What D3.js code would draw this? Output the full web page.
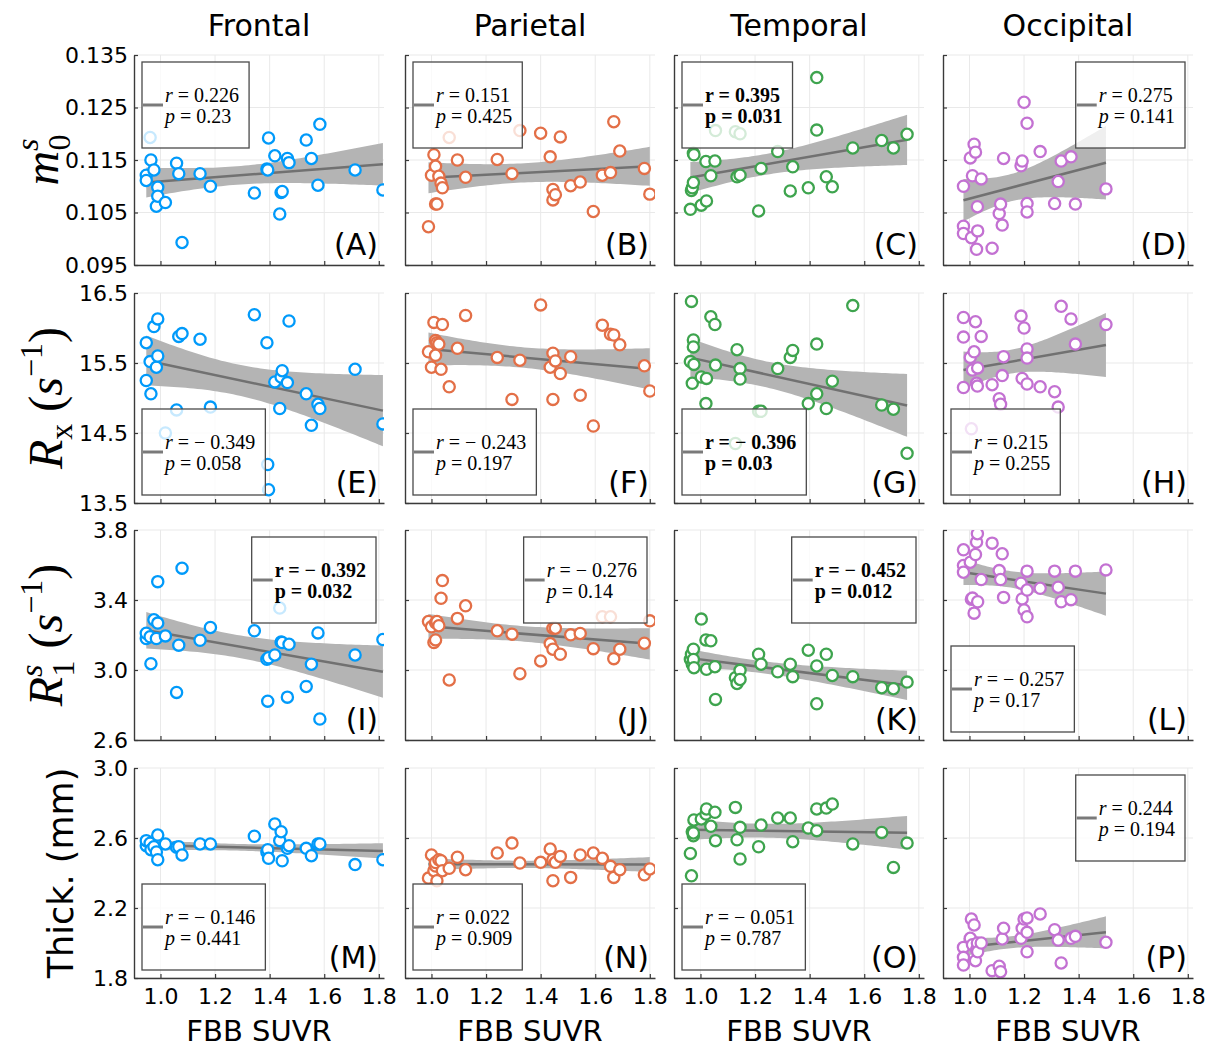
<!DOCTYPE html>
<html>
<head>
<meta charset="utf-8">
<script src="https://cdn.jsdelivr.net/npm/d3@7"></script>
<style>
  body { margin: 0; background: #fff; }
</style>
</head>
<body>
<svg id="chart" width="1212" height="1047"></svg>
<script>
/* global d3 */

const SANS = 'DejaVu Sans, sans-serif';
const SERIF = 'Liberation Serif, DejaVu Serif, serif';

const COL_LEFT = [134, 405, 674, 943];
const ROW_TOP = [55, 293, 530, 768];
const PW = 250;
const PH = 210;
const X_DOMAIN = [0.903, 1.819];
const T95 = 2.048; // t(0.975, n-2) for n = 30

const regions = ['Frontal', 'Parietal', 'Temporal', 'Occipital'];
const colors = ['#009AFA', '#E36F47', '#3EA44E', '#C371D2'];
const panelLetters = 'ABCDEFGHIJKLMNOP'.split('');

const xTicks = [1.0, 1.2, 1.4, 1.6, 1.8];
const yTicksM0 = [0.095, 0.105, 0.115, 0.125, 0.135];
const yTicksRx = [13.5, 14.5, 15.5, 16.5];
const yTicksR1 = [2.6, 3.0, 3.4, 3.8];
const yTicksThick = [1.8, 2.2, 2.6, 3.0];

// FBB SUVR per region (same subjects in every row of a column)
const suvrFrontal = [0.948, 0.948, 0.962, 0.965, 0.976, 0.985, 0.99, 0.99, 1.018, 1.059, 1.067, 1.079, 1.145, 1.183, 1.344, 1.39, 1.393, 1.396, 1.419, 1.437, 1.442, 1.446, 1.465, 1.471, 1.534, 1.553, 1.577, 1.584, 1.713, 1.815];
const suvrParietal = [0.989, 1.0, 1.009, 1.015, 1.015, 1.02, 1.027, 1.035, 1.04, 1.065, 1.095, 1.125, 1.241, 1.295, 1.324, 1.4, 1.435, 1.445, 1.445, 1.454, 1.472, 1.51, 1.545, 1.593, 1.626, 1.656, 1.668, 1.69, 1.78, 1.8];
const suvrTemporal = [0.963, 0.967, 0.970, 0.974, 0.974, 0.976, 1.003, 1.02, 1.022, 1.038, 1.053, 1.055, 1.128, 1.134, 1.145, 1.145, 1.213, 1.222, 1.283, 1.329, 1.338, 1.395, 1.426, 1.426, 1.461, 1.483, 1.558, 1.664, 1.707, 1.757];
const suvrOccipital = [0.978, 0.978, 0.978, 1.003, 1.007, 1.011, 1.017, 1.022, 1.026, 1.029, 1.03, 1.043, 1.083, 1.109, 1.114, 1.12, 1.125, 1.189, 1.193, 1.2, 1.211, 1.211, 1.211, 1.259, 1.312, 1.325, 1.336, 1.372, 1.388, 1.5];

// m0s
const m0Frontal = [0.1121, 0.1111, 0.1193, 0.1150, 0.1131, 0.1062, 0.1098, 0.1081, 0.1069, 0.1144, 0.1124, 0.0993, 0.1124, 0.1100, 0.1087, 0.1133, 0.1131, 0.1192, 0.1158, 0.1047, 0.1088, 0.1090, 0.1153, 0.1145, 0.1188, 0.1153, 0.1102, 0.1218, 0.1131, 0.1093];
const m0Parietal = [0.1023, 0.1121, 0.1160, 0.1138, 0.1066, 0.1066, 0.1119, 0.1106, 0.1097, 0.1193, 0.1150, 0.1117, 0.1151, 0.1124, 0.1206, 0.1201, 0.1156, 0.1094, 0.1074, 0.1084, 0.1194, 0.1101, 0.1108, 0.1052, 0.1121, 0.1126, 0.1223, 0.1167, 0.1134, 0.1085];
const m0Temporal = [0.1056, 0.1092, 0.1097, 0.1107, 0.1163, 0.1160, 0.1064, 0.1147, 0.1072, 0.1120, 0.1148, 0.1206, 0.1204, 0.1118, 0.1200, 0.1121, 0.1053, 0.1134, 0.1166, 0.1091, 0.1137, 0.1097, 0.1307, 0.1207, 0.1118, 0.1099, 0.1173, 0.1187, 0.1173, 0.1199];
const m0Occipital = [0.1100, 0.1024, 0.1010, 0.1154, 0.1002, 0.1120, 0.1180, 0.1165, 0.0980, 0.1061, 0.1015, 0.1114, 0.0982, 0.1048, 0.1066, 0.1026, 0.1153, 0.1139, 0.1148, 0.1260, 0.1220, 0.1067, 0.1051, 0.1166, 0.1067, 0.1109, 0.1148, 0.1156, 0.1066, 0.1095];

// Rx
const rxFrontal = [15.25, 15.79, 15.52, 15.06, 16.02, 15.44, 16.13, 15.60, 14.50, 14.83, 15.88, 15.92, 15.84, 14.87, 16.19, 15.79, 14.05, 13.69, 15.23, 14.85, 15.30, 15.39, 15.22, 16.10, 15.06, 14.61, 14.91, 14.85, 15.41, 14.63];
const rxParietal = [15.66, 15.44, 16.08, 15.82, 15.61, 15.79, 15.77, 15.41, 16.05, 15.16, 15.71, 16.18, 15.58, 14.98, 15.54, 16.33, 15.44, 15.64, 14.98, 15.53, 15.35, 15.59, 15.04, 14.60, 16.04, 15.91, 15.90, 15.76, 15.46, 15.10];
const rxTemporal = [15.52, 16.38, 15.21, 15.83, 15.73, 15.48, 15.30, 14.92, 15.28, 16.16, 16.05, 15.47, 14.35, 15.69, 15.42, 15.27, 14.81, 14.81, 15.42, 15.58, 15.68, 14.92, 15.77, 15.06, 14.85, 15.24, 16.32, 14.90, 14.84, 14.21];
const rxOccipital = [16.15, 15.87, 15.15, 15.58, 14.56, 15.40, 15.66, 16.09, 15.21, 15.17, 15.43, 15.88, 15.19, 14.99, 14.91, 15.32, 15.59, 16.17, 15.28, 16.00, 15.20, 15.70, 15.57, 15.16, 15.09, 14.87, 16.31, 16.13, 15.77, 16.05];

// R1s
const r1Frontal = [3.180, 3.210, 3.190, 3.036, 3.287, 3.180, 3.505, 3.268, 3.195, 2.872, 3.142, 3.582, 3.170, 3.243, 3.224, 3.061, 2.822, 3.070, 3.086, 3.354, 3.160, 3.157, 2.845, 3.147, 2.906, 3.033, 3.212, 2.720, 3.086, 3.174];
const r1Parietal = [3.277, 3.247, 3.157, 3.172, 3.270, 3.277, 3.253, 3.410, 3.511, 2.943, 3.295, 3.367, 3.224, 3.205, 2.979, 3.052, 3.151, 3.119, 3.239, 3.239, 3.090, 3.201, 3.209, 3.122, 3.304, 3.304, 3.065, 3.119, 3.153, 3.281];
const r1Temporal = [3.061, 3.090, 3.033, 3.119, 3.060, 3.013, 3.291, 3.172, 3.004, 3.167, 3.019, 2.832, 2.956, 2.923, 2.998, 2.946, 3.090, 3.033, 2.990, 3.033, 2.962, 3.113, 3.023, 2.807, 3.090, 2.969, 2.962, 2.899, 2.893, 2.931];
const r1Occipital = [3.687, 3.597, 3.559, 3.616, 3.405, 3.411, 3.325, 3.660, 3.731, 3.779, 3.390, 3.517, 3.725, 3.568, 3.517, 3.664, 3.415, 3.496, 3.406, 3.343, 3.304, 3.457, 3.565, 3.467, 3.565, 3.473, 3.390, 3.402, 3.565, 3.572];

// cortical thickness (mm)
const thickFrontal = [2.556, 2.585, 2.570, 2.533, 2.550, 2.520, 2.617, 2.476, 2.566, 2.547, 2.550, 2.503, 2.566, 2.566, 2.610, 2.518, 2.533, 2.484, 2.680, 2.585, 2.636, 2.470, 2.541, 2.556, 2.541, 2.499, 2.566, 2.566, 2.448, 2.476];
const thickParietal = [2.371, 2.503, 2.413, 2.440, 2.460, 2.356, 2.476, 2.470, 2.413, 2.427, 2.490, 2.419, 2.514, 2.571, 2.457, 2.461, 2.537, 2.356, 2.476, 2.461, 2.495, 2.375, 2.503, 2.514, 2.484, 2.438, 2.375, 2.419, 2.390, 2.423];
const thickTemporal = [2.512, 2.384, 2.636, 2.613, 2.629, 2.703, 2.709, 2.737, 2.766, 2.667, 2.747, 2.585, 2.775, 2.590, 2.661, 2.480, 2.550, 2.674, 2.714, 2.714, 2.579, 2.657, 2.766, 2.642, 2.771, 2.794, 2.566, 2.632, 2.432, 2.571];
const thickOccipital = [1.975, 1.918, 1.874, 2.027, 2.137, 1.990, 2.103, 1.899, 1.962, 2.000, 1.950, 2.000, 1.842, 1.867, 1.836, 2.023, 2.084, 2.027, 2.084, 2.137, 2.143, 2.061, 1.950, 2.166, 2.076, 2.017, 1.886, 2.027, 2.038, 2.004];

// legend stats, panels A..P
const rValues = [0.226, 0.151, 0.395, 0.275, -0.349, -0.243, -0.396, 0.215, -0.392, -0.276, -0.452, -0.257, -0.146, 0.022, -0.051, 0.244];
const pValues = [0.23, 0.425, 0.031, 0.141, 0.058, 0.197, 0.03, 0.255, 0.032, 0.14, 0.012, 0.17, 0.441, 0.909, 0.787, 0.194];
const significant = [false, false, true, false, false, false, true, false, true, false, true, false, false, false, false, false];
const legendCorner = ['tl', 'tl', 'tl', 'tr', 'bl', 'bl', 'bl', 'bl', 'tr', 'tr', 'tr', 'bl', 'bl', 'bl', 'bl', 'tr'];

const suvr = [suvrFrontal, suvrParietal, suvrTemporal, suvrOccipital];
const rowValues = [
  [m0Frontal, m0Parietal, m0Temporal, m0Occipital],
  [rxFrontal, rxParietal, rxTemporal, rxOccipital],
  [r1Frontal, r1Parietal, r1Temporal, r1Occipital],
  [thickFrontal, thickParietal, thickTemporal, thickOccipital]
];
const rowTicks = [yTicksM0, yTicksRx, yTicksR1, yTicksThick];
const rowFormat = [d3.format('.3f'), d3.format('.1f'), d3.format('.1f'), d3.format('.1f')];

const svg = d3.select('#chart');
const defs = svg.append('defs');

// ordinary least squares + 95% confidence band of the mean
function fitLine(xs, ys) {
  const n = xs.length;
  const mx = d3.mean(xs);
  const my = d3.mean(ys);
  let sxx = 0, sxy = 0;
  for (let i = 0; i < n; ++i) {
    sxx += (xs[i] - mx) * (xs[i] - mx);
    sxy += (xs[i] - mx) * (ys[i] - my);
  }
  const b = sxy / sxx;
  const a = my - b * mx;
  let sse = 0;
  for (let i = 0; i < n; ++i) {
    const e = ys[i] - (a + b * xs[i]);
    sse += e * e;
  }
  const s = Math.sqrt(sse / (n - 2));
  const half = (x) => T95 * s * Math.sqrt(1 / n + (x - mx) * (x - mx) / sxx);
  return {
    y: (x) => a + b * x,
    lo: (x) => a + b * x - half(x),
    hi: (x) => a + b * x + half(x)
  };
}

function drawPanel(row, col) {
  const k = row * 4 + col;
  const left = COL_LEFT[col];
  const top = ROW_TOP[row];
  const xs = suvr[col];
  const ys = rowValues[row][col];
  const ticks = rowTicks[row];

  const x = d3.scaleLinear().domain(X_DOMAIN).range([left, left + PW]);
  const y = d3.scaleLinear().domain([ticks[0], ticks[ticks.length - 1]]).range([top + PH, top]);

  const g = svg.append('g');

  defs.append('clipPath').attr('id', 'clip' + k)
    .append('rect')
    .attr('x', left).attr('y', top)
    .attr('width', PW).attr('height', PH);

  // grid
  g.selectAll('.vgrid')
    .data(xTicks)
    .enter()
    .append('line')
    .attr('x1', d => x(d)).attr('x2', d => x(d))
    .attr('y1', top).attr('y2', top + PH)
    .style('stroke', '#e9e9e9').style('stroke-width', 1);

  g.selectAll('.hgrid')
    .data(ticks)
    .enter()
    .append('line')
    .attr('x1', left).attr('x2', left + PW)
    .attr('y1', d => y(d)).attr('y2', d => y(d))
    .style('stroke', '#e9e9e9').style('stroke-width', 1);

  const plot = g.append('g').attr('clip-path', 'url(#clip' + k + ')');

  const fit = fitLine(xs, ys);
  const [xMin, xMax] = d3.extent(xs);
  const samples = d3.range(61).map(i => xMin + (xMax - xMin) * i / 60);

  plot.append('path')
    .datum(samples)
    .attr('d', d3.area().x(d => x(d)).y0(d => y(fit.lo(d))).y1(d => y(fit.hi(d))))
    .style('fill', '#b4b4b4');

  plot.append('path')
    .datum([xMin, xMax])
    .attr('d', d3.line().x(d => x(d)).y(d => y(fit.y(d))))
    .style('fill', 'none')
    .style('stroke', '#717171')
    .style('stroke-width', 2.5);

  plot.selectAll('circle')
    .data(xs.map((v, i) => [v, ys[i]]))
    .enter()
    .append('circle')
    .attr('cx', d => x(d[0]))
    .attr('cy', d => y(d[1]))
    .attr('r', 5.6)
    .style('fill', '#fff')
    .style('stroke', colors[col])
    .style('stroke-width', 2.3);

  // axes (ticks point inward)
  const yAxis = g.append('g')
    .attr('transform', `translate(${left},0)`)
    .call(d3.axisLeft(y).tickValues(ticks).tickSizeInner(-4).tickSizeOuter(0).tickPadding(6)
      .tickFormat(col === 0 ? rowFormat[row] : ''));
  const xAxis = g.append('g')
    .attr('transform', `translate(0,${top + PH})`)
    .call(d3.axisBottom(x).tickValues(xTicks).tickSizeInner(-4).tickSizeOuter(0).tickPadding(10)
      .tickFormat(row === 3 ? d3.format('.1f') : ''));

  [yAxis, xAxis].forEach(ax => {
    ax.select('.domain').style('stroke', '#3a3a3a').style('stroke-width', 1.4);
    ax.selectAll('.tick line').style('stroke', '#3a3a3a').style('stroke-width', 1.2);
    ax.selectAll('.tick text')
      .attr('font-family', SANS)
      .attr('font-size', 22)
      .style('fill', '#000');
  });

  // legend
  const bold = significant[k];
  const rv = rValues[k];
  const rText = ' = ' + (rv < 0 ? '\u2212 ' : '') + String(Math.abs(rv));
  const pText = ' = ' + String(pValues[k]);

  const leg = g.append('g');
  const box = leg.append('rect')
    .style('fill', '#fff')
    .style('fill-opacity', 0.78)
    .style('stroke', '#4a4a4a')
    .style('stroke-width', 1.3);
  const line = leg.append('line')
    .style('stroke', '#7a7a7a')
    .style('stroke-width', 3);

  const t1 = leg.append('text')
    .attr('font-family', SERIF).attr('font-size', 20)
    .attr('font-weight', bold ? 'bold' : 'normal');
  t1.append('tspan').attr('font-style', bold ? 'normal' : 'italic').text('r');
  t1.append('tspan').text(rText);

  const t2 = leg.append('text')
    .attr('font-family', SERIF).attr('font-size', 20)
    .attr('font-weight', bold ? 'bold' : 'normal');
  t2.append('tspan').attr('font-style', bold ? 'normal' : 'italic').text('p');
  t2.append('tspan').text(pText);

  const textW = Math.max(t1.node().getComputedTextLength(), t2.node().getComputedTextLength());
  const bw = 23 + textW + 10;
  const bh = 86;
  const corner = legendCorner[k];
  const bx = corner === 'tr' ? left + PW - 8 - bw : left + 8;
  const by = corner === 'bl' ? top + PH - 8 - bh : top + 7;

  box.attr('x', bx).attr('y', by).attr('width', bw).attr('height', bh);
  line.attr('x1', bx + 1).attr('x2', bx + 21).attr('y1', by + 43).attr('y2', by + 43);
  t1.attr('x', bx + 23).attr('y', by + 40);
  t2.attr('x', bx + 23).attr('y', by + 61);

  // panel letter
  g.append('text')
    .attr('x', left + 244)
    .attr('y', top + 200)
    .attr('text-anchor', 'end')
    .attr('font-family', SANS)
    .attr('font-size', 30)
    .text('(' + panelLetters[k] + ')');
}

for (let r = 0; r < 4; ++r) {
  for (let c = 0; c < 4; ++c) drawPanel(r, c);
}

// column titles and x labels
regions.forEach((name, c) => {
  const cx = COL_LEFT[c] + PW / 2;
  svg.append('text')
    .attr('x', cx).attr('y', 36)
    .attr('text-anchor', 'middle')
    .attr('font-family', SANS).attr('font-size', 30)
    .text(name);
  svg.append('text')
    .attr('x', cx).attr('y', 1041)
    .attr('text-anchor', 'middle')
    .attr('font-family', SANS).attr('font-size', 29)
    .text('FBB SUVR');
});

// y labels (rotated)
function yLabel(row, baseX) {
  const cy = ROW_TOP[row] + PH / 2;
  return svg.append('g')
    .attr('transform', `translate(${baseX},${cy}) rotate(-90)`)
    .append('text')
    .attr('text-anchor', 'middle')
    .attr('font-family', SERIF)
    .attr('font-size', 48);
}

let t = yLabel(0, 58);
t.append('tspan').attr('font-style', 'italic').text('m');
t.append('tspan').attr('font-style', 'italic').attr('font-size', 32).attr('dy', -20).text('s');
t.append('tspan').attr('font-size', 32).attr('dx', -12).attr('dy', 32).text('0');

t = yLabel(1, 62);
t.append('tspan').attr('font-style', 'italic').text('R');
t.append('tspan').attr('font-size', 32).attr('dy', 10).text('x');
t.append('tspan').attr('dy', -10).text(' (');
t.append('tspan').attr('font-style', 'italic').text('s');
t.append('tspan').attr('font-size', 32).attr('dy', -20).text('\u22121');
t.append('tspan').attr('dy', 20).text(')');

t = yLabel(2, 62);
t.append('tspan').attr('font-style', 'italic').text('R');
t.append('tspan').attr('font-style', 'italic').attr('font-size', 32).attr('dy', -20).text('s');
t.append('tspan').attr('font-size', 32).attr('dx', -12).attr('dy', 32).text('1');
t.append('tspan').attr('dy', -12).text(' (');
t.append('tspan').attr('font-style', 'italic').text('s');
t.append('tspan').attr('font-size', 32).attr('dy', -20).text('\u22121');
t.append('tspan').attr('dy', 20).text(')');

svg.append('text')
  .attr('transform', `translate(73,${ROW_TOP[3] + PH / 2}) rotate(-90)`)
  .attr('text-anchor', 'middle')
  .attr('font-family', SANS)
  .attr('font-size', 35)
  .text('Thick. (mm)');
</script>
</body>
</html>
